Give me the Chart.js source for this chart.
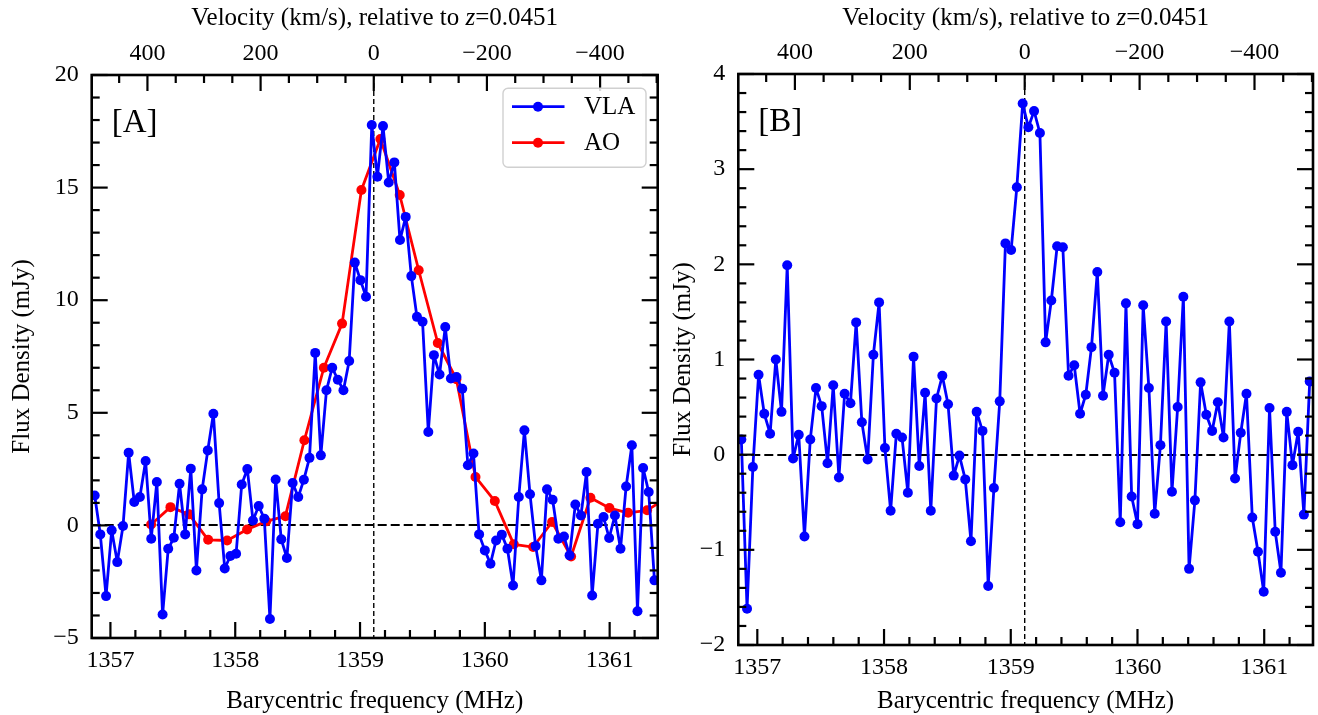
<!DOCTYPE html>
<html><head><meta charset="utf-8">
<script src="https://cdn.jsdelivr.net/npm/chart.js@4.4.0/dist/chart.umd.min.js"></script>
<style>
html,body{margin:0;padding:0;background:#fff;width:1318px;height:715px;overflow:hidden}
canvas{position:absolute;top:0}
#cA{left:0}
#cB{left:650px}
</style></head><body>
<canvas id="cA" width="680" height="715"></canvas>
<canvas id="cB" width="668" height="715"></canvas>
<script>
// ---- data ----
const freqMHz = [
1356.874,1356.919,1356.965,1357.010,1357.055,1357.101,1357.146,1357.191,1357.236,1357.282,
1357.327,1357.372,1357.418,1357.463,1357.508,1357.554,1357.599,1357.644,1357.689,1357.735,
1357.780,1357.825,1357.871,1357.916,1357.961,1358.007,1358.052,1358.097,1358.142,1358.188,
1358.233,1358.278,1358.324,1358.369,1358.414,1358.460,1358.505,1358.550,1358.595,1358.641,
1358.686,1358.731,1358.777,1358.822,1358.867,1358.913,1358.958,1359.003,1359.048,1359.094,
1359.139,1359.184,1359.230,1359.275,1359.320,1359.366,1359.411,1359.456,1359.501,1359.547,
1359.592,1359.637,1359.683,1359.728,1359.773,1359.819,1359.864,1359.909,1359.954,1360.000,
1360.045,1360.090,1360.136,1360.181,1360.226,1360.272,1360.317,1360.362,1360.407,1360.453,
1360.498,1360.543,1360.589,1360.634,1360.679,1360.725,1360.770,1360.815,1360.860,1360.906,
1360.951,1360.996,1361.042,1361.087,1361.132,1361.178,1361.223,1361.268,1361.313,1361.359];
const vlaFluxA = [
1.33,-0.4,-3.14,-0.22,-1.63,-0.03,3.23,1.04,1.26,2.86,
-0.59,1.93,-3.96,-1.04,-0.55,1.85,-0.4,2.52,-2.0,1.6,
3.33,4.96,0.99,-1.91,-1.36,-1.26,1.82,2.5,0.22,0.86,
0.3,-4.16,2.04,-0.62,-1.45,1.88,1.26,2.03,3.0,7.66,
3.11,6.0,7.0,6.47,6.0,7.3,11.67,10.89,10.15,17.78,
15.48,17.73,15.23,16.12,12.67,13.7,11.07,9.26,9.04,4.15,
7.56,6.7,8.81,6.52,6.59,6.07,2.67,3.19,-0.4,-1.11,
-1.7,-0.67,-0.41,-1.04,-2.67,1.26,4.22,1.38,-0.92,-2.44,
1.6,1.14,-0.59,-0.49,-1.33,0.93,0.44,2.37,-3.11,0.07,
0.37,-0.56,0.44,-1.04,1.73,3.56,-3.81,2.55,1.48,-2.44];
const aoFreqMHz = [1357.326,1357.481,1357.630,1357.783,1357.935,1358.095,1358.248,1358.402,
1358.554,1358.710,1358.856,1359.011,1359.163,1359.318,1359.470,1359.623,1359.772,1359.925,
1360.080,1360.232,1360.387,1360.539,1360.691,1360.846,1360.998,1361.148,1361.300,1361.452];
const aoFluxA = [0.04,0.81,0.49,-0.64,-0.67,-0.18,0.18,0.41,
3.78,7.0,8.96,14.89,17.16,14.67,11.33,8.1,6.49,2.15,
1.08,-0.84,-0.96,0.15,-1.38,1.23,0.77,0.56,0.67,1.2];
const vlaFluxB = [
0.16,-1.62,-0.13,0.84,0.43,0.22,1.0,0.45,1.99,-0.04,
0.21,-0.86,0.16,0.7,0.51,-0.09,0.73,-0.24,0.64,0.54,
1.39,0.34,-0.05,1.05,1.6,0.07,-0.59,0.22,0.18,-0.4,
1.03,-0.12,0.65,-0.59,0.59,0.83,0.53,-0.22,-0.01,-0.26,
-0.91,0.45,0.25,-1.38,-0.35,0.56,2.22,2.15,2.81,3.69,
3.44,3.61,3.38,1.18,1.62,2.19,2.18,0.83,0.94,0.43,
0.63,1.13,1.92,0.62,1.05,0.86,-0.71,1.59,-0.44,-0.73,
1.57,0.7,-0.62,0.1,1.4,-0.39,0.5,1.66,-1.2,-0.48,
0.76,0.42,0.25,0.55,0.18,1.4,-0.25,0.23,0.64,-0.66,
-1.02,-1.44,0.49,-0.81,-1.24,0.45,-0.11,0.24,-0.63,0.77];
const freqTicks = [1357,1358,1359,1360,1361];
const velTicks = [400,200,0,-200,-400];
const fluxTicksA = [-5,0,5,10,15,20];
const fluxTicksB = [-2,-1,0,1,2,3,4];
const zeroVelFreq = 1359.11;       // z = 0.0451
const freqRange = [1356.85, 1361.385];
const fluxRangeA = [-5, 20];
const fluxRangeB = [-2, 4];
const seriesNames = ['VLA','AO'];
const seriesColors = ['#0000ff','#ff0000'];

// ---- helpers ----
const FONT = "'Liberation Serif','Times New Roman',serif";
const C_KMS = 299792.458;
const velOf = f => (zeroVelFreq - f) / zeroVelFreq * C_KMS;
const fmt = v => v < 0 ? '\u2212' + Math.abs(v) : String(v);
const pts = (xs, ys) => xs.map((x, i) => ({x: x, y: ys[i]}));

function ticksLoop(min, max, step, cb) {
  for (let i = Math.ceil(min / step - 1e-9); i * step <= max + 1e-9; i++) cb(i * step, i);
}

function decorPlugin(o) {
  return {
    id: 'decor' + o.label,
    beforeDatasetsDraw(chart) {
      const {ctx, chartArea: a, scales} = chart;
      ctx.save();
      ctx.beginPath(); ctx.rect(a.left, a.top, a.width, a.height); ctx.clip();
      ctx.strokeStyle = '#000';
      ctx.setLineDash([9, 4]); ctx.lineWidth = 2;
      const y0 = Math.round(scales.y.getPixelForValue(0));
      ctx.beginPath(); ctx.moveTo(a.left, y0); ctx.lineTo(a.right, y0); ctx.stroke();
      ctx.setLineDash([5, 3]); ctx.lineWidth = 1.4;
      const xv = scales.x.getPixelForValue(zeroVelFreq);
      ctx.beginPath(); ctx.moveTo(xv, a.top); ctx.lineTo(xv, a.bottom); ctx.stroke();
      ctx.restore();
    },
    afterDraw(chart) {
      const {ctx, chartArea: a, scales} = chart;
      const MAJ = 16, MIN = 8;
      ctx.save();
      ctx.strokeStyle = '#000';
      ctx.lineCap = 'butt';
      ctx.lineWidth = 2.2;
      // bottom ticks (frequency)
      ticksLoop(freqRange[0], freqRange[1], 0.2, (v, i) => {
        const x = scales.x.getPixelForValue(v);
        const L = (i % 5 === 0) ? MAJ : MIN;
        ctx.beginPath(); ctx.moveTo(x, a.bottom); ctx.lineTo(x, a.bottom - L); ctx.stroke();
      });
      // top ticks (velocity)
      const vs = scales.x2;
      ticksLoop(vs.min, vs.max, 50, (v, i) => {
        const x = vs.getPixelForValue(v);
        const L = (i % 4 === 0) ? MAJ : MIN;
        ctx.beginPath(); ctx.moveTo(x, a.top); ctx.lineTo(x, a.top + L); ctx.stroke();
      });
      // left/right ticks
      const ys = scales.y;
      ticksLoop(ys.min, ys.max, o.yMinor, (v, i) => {
        const y = ys.getPixelForValue(v);
        const L = (i % o.yMajorEvery === 0) ? MAJ : MIN;
        ctx.beginPath(); ctx.moveTo(a.left, y); ctx.lineTo(a.left + L, y); ctx.stroke();
        ctx.beginPath(); ctx.moveTo(a.right, y); ctx.lineTo(a.right - L, y); ctx.stroke();
      });
      // frame
      ctx.lineWidth = 2.6;
      ctx.strokeRect(a.left, a.top, a.width, a.height);

      ctx.fillStyle = '#000';
      // panel label
      ctx.font = '33px ' + FONT;
      ctx.textAlign = 'left'; ctx.textBaseline = 'alphabetic';
      ctx.fillText(o.label, a.left + 20, a.top + 57);

      // x title
      const cx = (a.left + a.right) / 2;
      ctx.font = '25px ' + FONT;
      ctx.textAlign = 'center';
      ctx.fillText('Barycentric frequency (MHz)', cx, 708);
      // top title with italic z
      const parts = [['Velocity (km/s), relative to ', ''], ['z', 'italic '], ['=0.0451', '']];
      let tw = 0;
      const ws = parts.map(p => { ctx.font = p[1] + '25px ' + FONT; const w = ctx.measureText(p[0]).width; tw += w; return w; });
      let xx = cx - tw / 2;
      ctx.textAlign = 'left';
      parts.forEach((p, i) => { ctx.font = p[1] + '25px ' + FONT; ctx.fillText(p[0], xx, 25); xx += ws[i]; });
      // y title
      ctx.save();
      ctx.translate(o.yTitleX, (a.top + a.bottom) / 2);
      ctx.rotate(-Math.PI / 2);
      ctx.font = '25px ' + FONT;
      ctx.textAlign = 'center'; ctx.textBaseline = 'alphabetic';
      ctx.fillText('Flux Density (mJy)', 0, 0);
      ctx.restore();

      // legend
      if (o.legend) {
        const bw = 143, bh = 79;
        const bx = a.right - 11.7 - bw, by = a.top + 13.3;
        ctx.beginPath();
        ctx.roundRect(bx, by, bw, bh, 5);
        ctx.fillStyle = 'rgba(255,255,255,0.85)'; ctx.fill();
        ctx.strokeStyle = '#d0d0d0'; ctx.lineWidth = 1.4; ctx.stroke();
        chart.data.datasets.forEach((ds, i) => {
          const ly = by + 18.4 + i * 36;
          ctx.strokeStyle = ds.borderColor; ctx.lineWidth = 2.8;
          ctx.beginPath(); ctx.moveTo(bx + 9, ly); ctx.lineTo(bx + 61.5, ly); ctx.stroke();
          ctx.fillStyle = ds.borderColor;
          ctx.beginPath(); ctx.arc(bx + 35, ly, 5, 0, Math.PI * 2); ctx.fill();
          ctx.fillStyle = '#000'; ctx.font = '25px ' + FONT;
          ctx.textAlign = 'left'; ctx.textBaseline = 'middle';
          ctx.fillText(ds.label, bx + 81, ly + 1);
        });
      }
      ctx.restore();
    }
  };
}

function makeChart(id, datasets, yRange, yTicks, dims, o) {
  const tickFont = {family: FONT, size: 24};
  return new Chart(document.getElementById(id), {
    type: 'line',
    data: {datasets: datasets},
    options: {
      responsive: false, animation: false, devicePixelRatio: 1,
      layout: {padding: {left: 0, right: dims.right, top: 0, bottom: 0}},
      plugins: {legend: {display: false}, tooltip: {enabled: false}},
      elements: {line: {tension: 0}},
      scales: {
        x: {
          type: 'linear', position: 'bottom', min: freqRange[0], max: freqRange[1],
          grid: {display: false, drawTicks: false}, border: {display: false},
          afterBuildTicks: s => { s.ticks = freqTicks.map(v => ({value: v})); },
          afterFit: s => { s.height = dims.bottom; },
          ticks: {font: tickFont, color: '#000', padding: 8, maxRotation: 0, autoSkip: false, callback: v => fmt(v)}
        },
        x2: {
          type: 'linear', position: 'top', reverse: true,
          min: velOf(freqRange[1]), max: velOf(freqRange[0]),
          grid: {display: false, drawTicks: false}, border: {display: false},
          afterBuildTicks: s => { s.ticks = velTicks.map(v => ({value: v})); },
          afterFit: s => { s.height = dims.top; },
          ticks: {font: tickFont, color: '#000', padding: 7, maxRotation: 0, autoSkip: false, callback: v => fmt(v)}
        },
        y: {
          type: 'linear', position: 'left', min: yRange[0], max: yRange[1],
          grid: {display: false, drawTicks: false}, border: {display: false},
          afterBuildTicks: s => { s.ticks = yTicks.map(v => ({value: v})); },
          afterFit: s => { s.width = dims.left; },
          ticks: {font: tickFont, color: '#000', padding: 13, autoSkip: false, callback: v => fmt(v)}
        }
      }
    },
    plugins: [decorPlugin(o)]
  });
}

const dsStyle = c => ({borderColor: c, backgroundColor: c, pointBackgroundColor: c, pointBorderWidth: 0,
  pointRadius: 5, borderWidth: 2.8, borderJoinStyle: 'round', borderCapStyle: 'round',
  fill: false, clip: 0, xAxisID: 'x', yAxisID: 'y'});

makeChart('cA', [
  Object.assign({label: seriesNames[0], data: pts(freqMHz, vlaFluxA)}, dsStyle(seriesColors[0])),
  Object.assign({label: seriesNames[1], data: pts(aoFreqMHz, aoFluxA)}, dsStyle(seriesColors[1]))
], fluxRangeA, fluxTicksA, {left: 91.7, right: 680 - 657.7, top: 75, bottom: 715 - 638},
  {label: '[A]', yMinor: 1, yMajorEvery: 5, yTitleX: 28.5, legend: true});

makeChart('cB', [
  Object.assign({label: seriesNames[0], data: pts(freqMHz, vlaFluxB)}, dsStyle(seriesColors[0]))
], fluxRangeB, fluxTicksB, {left: 738.3 - 650, right: 668 - (1313 - 650), top: 74, bottom: 715 - 645},
  {label: '[B]', yMinor: 0.2, yMajorEvery: 5, yTitleX: 689.5 - 650, legend: false});
</script>
</body></html>
